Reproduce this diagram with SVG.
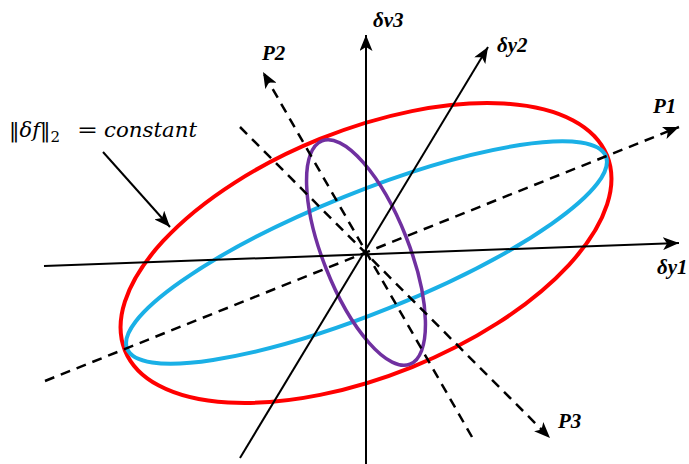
<svg xmlns="http://www.w3.org/2000/svg" width="689" height="464" viewBox="0 0 689 464">
<style>
.ax{stroke:#000;stroke-width:2;fill:none}
.ds{stroke:#000;stroke-width:2.5;fill:none;stroke-dasharray:10 7}
.lb{font-family:"Liberation Serif","Times New Roman",serif;font-style:italic;font-weight:bold;font-size:21px;fill:#000}
.fm{font-family:"DejaVu Serif",serif;font-size:21px;fill:#000}
</style>
<defs>
<marker id="ah" markerUnits="userSpaceOnUse" markerWidth="17" markerHeight="13" refX="16" refY="6.5" orient="auto">
<path d="M0,0 L16,6.5 L0,13 L4,6.5 Z" fill="#000"/>
</marker>
</defs>
<rect width="689" height="464" fill="#fff"/>
<g id="ellipses">
<ellipse id="red" cx="366" cy="253" rx="260" ry="123" transform="rotate(-22 366 253)" fill="none" stroke="#ff0000" stroke-width="4"/>
<ellipse id="blue" cx="366.5" cy="252.5" rx="258" ry="60" transform="rotate(-21.9 366.5 252.5)" fill="none" stroke="#1ab0e6" stroke-width="4"/>
<ellipse id="purple" cx="366" cy="252.5" rx="120" ry="43" transform="rotate(68.5 366 252.5)" fill="none" stroke="#7030a0" stroke-width="3.5"/>
</g>
<g id="connectors">
<line class="ax" x1="44" y1="266" x2="679" y2="243" marker-end="url(#ah)"/>
<line class="ax" x1="366" y1="464" x2="366" y2="35" marker-end="url(#ah)"/>
<line class="ax" x1="240" y1="458" x2="488" y2="47" marker-end="url(#ah)"/>
<line class="ds" x1="45" y1="381" x2="679" y2="127" marker-end="url(#ah)"/>
<line class="ds" x1="472" y1="437" x2="263" y2="72" marker-end="url(#ah)"/>
<line class="ds" x1="240" y1="127" x2="550" y2="438" marker-end="url(#ah)"/>
<line class="ax" x1="103" y1="152" x2="170" y2="227" marker-end="url(#ah)"/>
</g>
<g id="labels">
<text class="lb" x="373" y="27">δv3</text>
<text class="lb" x="262" y="60">P2</text>
<text class="lb" x="497" y="52">δy2</text>
<text class="lb" x="653" y="113">P1</text>
<text class="lb" x="657" y="274">δy1</text>
<text class="lb" x="558" y="428">P3</text>
<text class="fm" x="9" y="137">‖<tspan font-style="italic">δf</tspan>‖<tspan font-size="15" dy="5">2</tspan><tspan dy="-5" x="77" textLength="21" lengthAdjust="spacingAndGlyphs">=</tspan><tspan x="104" font-style="italic" textLength="93" lengthAdjust="spacingAndGlyphs">constant</tspan></text>
</g>
</svg>
